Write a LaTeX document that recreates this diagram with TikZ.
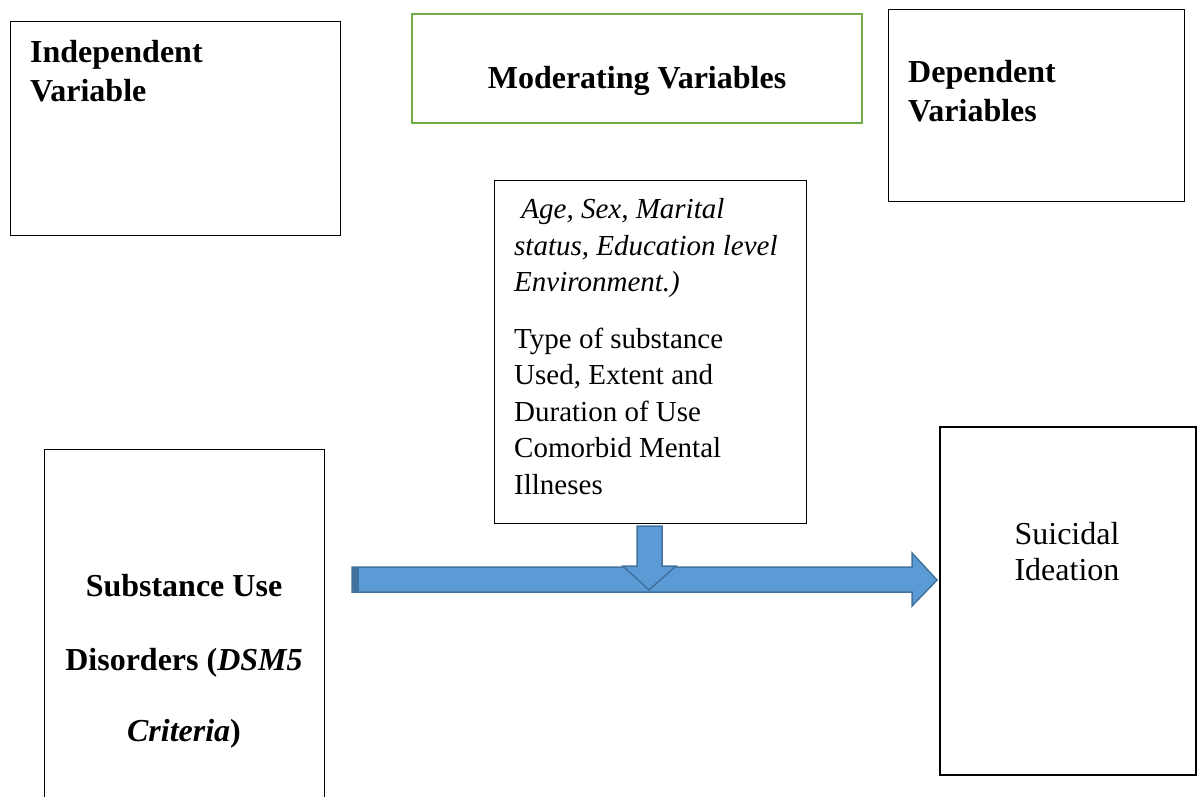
\documentclass[tikz,border=0pt]{standalone}
\usepackage{fontspec}
\setmainfont{Liberation Serif}
\definecolor{grn}{RGB}{112,173,71}
\definecolor{bfill}{RGB}{91,155,213}
\definecolor{bedge}{RGB}{65,113,156}
\tikzset{
  box/.style={draw=black, line width=1pt},
  big/.style={font=\fontsize{32}{39}\selectfont\bfseries, inner sep=0pt},
  mid/.style={font=\fontsize{29}{36.5}\selectfont, inner sep=0pt, align=left},
  blockarrow/.style={fill=bfill, draw=bedge, line width=1.5pt, line join=miter},
}
\begin{document}
\begin{tikzpicture}[x=1pt,y=-1pt]
\useasboundingbox (0,0) rectangle (1202,796);
% boxes
\draw[box] (10,21) rectangle (340,235);
\node[big, anchor=north west, align=left] (indep) at (30,40) {Independent\\Variable};
\draw[draw=grn, line width=2pt] (412,14) rectangle (862,123);
\node[big] (moder) at (637,81) {Moderating Variables};
\draw[box] (888,9) rectangle (1184,201);
\node[big, anchor=north west, align=left] (dep) at (908,60) {Dependent\\Variables};
% moderators box
\draw[box] (494,180) rectangle (806,523);
\node[mid, anchor=north west] (modtext) at (514,198.5) {\itshape\ Age, Sex, Marital\\\itshape status, Education level\\\itshape Environment.)\\[20pt]Type of substance\\Used, Extent and\\Duration of Use\\Comorbid Mental\\Illneses};
% left box (bottom cut off)
\draw[box] (44,800) -- (44,449) -- (324,449) -- (324,800);
\node[font=\fontsize{32}{38}\selectfont\bfseries, inner sep=0pt] (sud1) at (184,586) {Substance Use};
\node[font=\fontsize{32}{38}\selectfont\bfseries, inner sep=0pt] (sud2) at (184,663) {Disorders (\textit{DSM5}};
\node[font=\fontsize{32}{38}\selectfont\bfseries, inner sep=0pt] (sud3) at (184,734) {\textit{Criteria})};
% right box
\draw[draw=black, line width=2.5pt] (940,427) rectangle (1196,775);
\node[font=\fontsize{32}{36}\selectfont, inner sep=0pt, align=center] (sui) at (1067,552) {Suicidal\\Ideation};
% horizontal block arrow
\draw[blockarrow] (352,567) -- (912,567) -- (912,553) -- (937,580) -- (912,606) -- (912,592) -- (352,592) -- cycle;
\fill[bedge] (352,567) rectangle (359,592);
% down block arrow
\draw[blockarrow] (637,526) -- (662,526) -- (662,566) -- (676,566) -- (649,590) -- (623,566) -- (637,566) -- cycle;
\end{tikzpicture}
\end{document}
